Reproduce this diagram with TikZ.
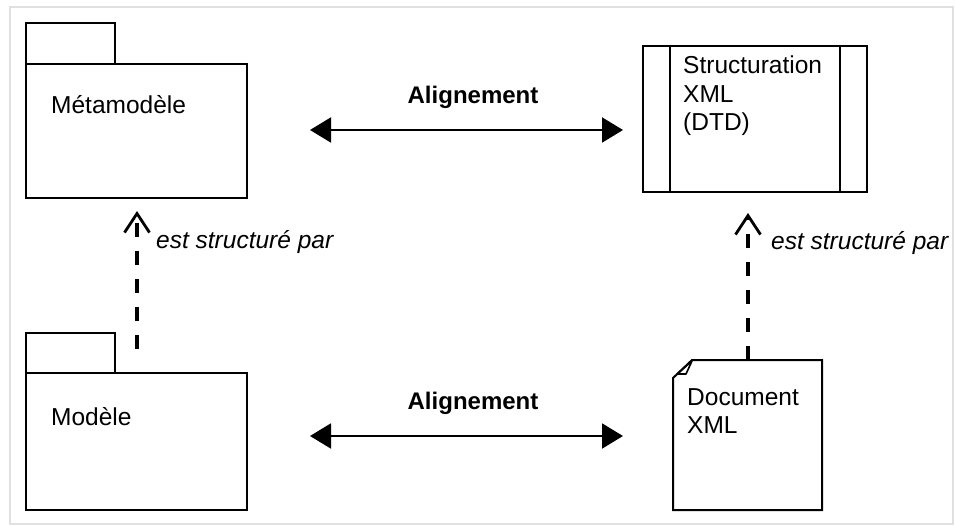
\documentclass[tikz,border=0pt]{standalone}
\usepackage{fontspec}
\setmainfont{Liberation Sans}
\usetikzlibrary{arrows.meta}
\begin{document}
\begin{tikzpicture}[x=1pt,y=-1pt,
  box/.style={draw=black,line width=2pt},
  lbl/.style={font=\fontsize{24.5}{28.5}\selectfont,inner sep=0pt,anchor=west,align=left},
  rel/.style={line width=2pt,{Triangle[length=21pt,width=25pt]}-{Triangle[length=21pt,width=25pt]}},
  dep/.style={line width=3.2pt,dash pattern=on 14pt off 14pt,-{Straight Barb[length=19pt,width=25pt,line width=2.8pt]}},
  note/.style={font=\fontsize{24.5}{28}\selectfont\itshape,inner sep=0pt,anchor=west}]
\useasboundingbox (0,0) rectangle (955,526);
\fill[white] (0,0) rectangle (955,526);
\draw[black!12,line width=1.2pt] (10,7) -- (953,7) -- (953,524) -- (10,524) -- cycle;

% Metamodele package
\draw[box] (26,23) rectangle (115,64);
\draw[box] (26,64) rectangle (247,198);
\node[lbl] (meta) at (51,105) {Métamodèle};

% Modele package
\draw[box] (26,333) rectangle (115,373);
\draw[box] (26,373) rectangle (247,510);
\node[lbl] (mod) at (51,417) {Modèle};

% Structuration XML
\draw[box] (643,46) rectangle (867,192);
\draw[box] (670,46) -- (670,192);
\draw[box] (840,46) -- (840,192);
\node[lbl,anchor=north west] (dtd) at (683,56) {Structuration\\XML\\(DTD)};

% Document XML
\draw[box,line join=miter] (692,360) -- (822,360) -- (822,510) -- (673,510) -- (673,378) -- cycle;
\draw[black,line width=1.6pt,line join=round] (677,374) -- (692,361) -- (686,374) -- cycle;
\node[lbl,anchor=north west] (doc) at (687,388) {Document\\XML};

% Alignement arrows
\coordinate (a1) at (310,130);
\coordinate (a2) at (623,130);
\draw[rel] (a1) -- (a2);
\node[font=\fontsize{24}{28}\selectfont\bfseries,inner sep=0pt] (al1) at (473,97) {Alignement};
\coordinate (b1) at (310,436);
\coordinate (b2) at (623,436);
\draw[rel] (b1) -- (b2);
\node[font=\fontsize{24}{28}\selectfont\bfseries,inner sep=0pt] (al2) at (473,403) {Alignement};

% est structure par
\coordinate (l1) at (137,349);
\coordinate (l2) at (137,211);
\draw[dep] (l1) -- (l2);
\node[note] (n1) at (156,242) {est structuré par};
\coordinate (r1) at (748,360);
\coordinate (r2) at (748,213);
\draw[dep] (r1) -- (r2);
\node[note] (n2) at (771,243) {est structuré par};
\end{tikzpicture}
\end{document}
